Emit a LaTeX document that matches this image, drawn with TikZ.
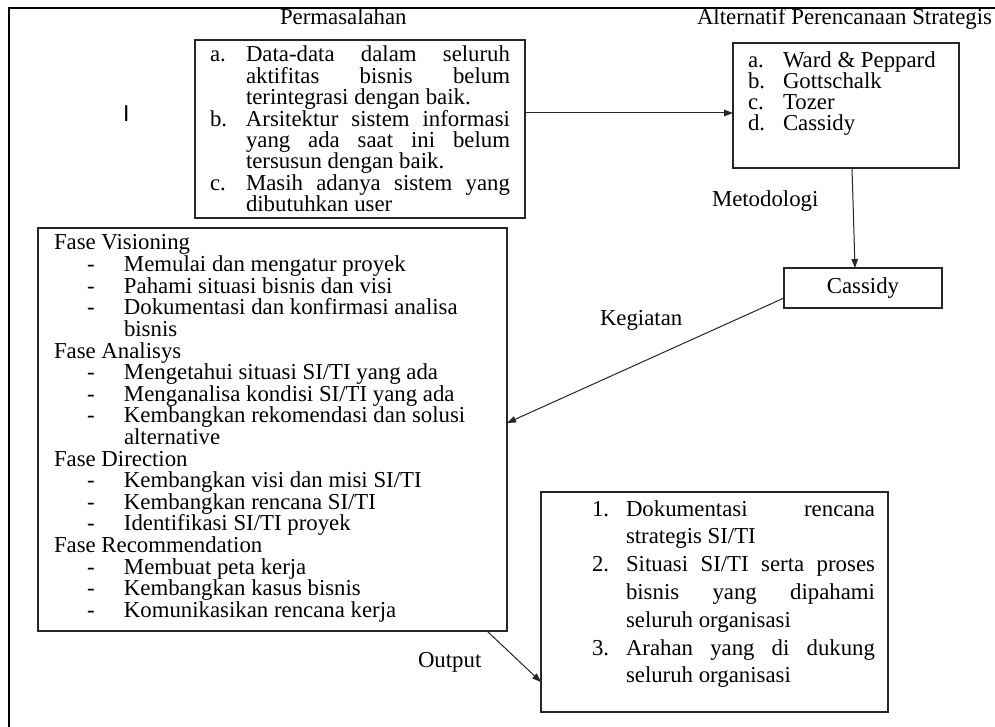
\documentclass[tikz,border=0pt]{standalone}
\usepackage{fontspec}
\setmainfont{Liberation Serif}
\newfontfamily\sansI{Liberation Sans}
\usetikzlibrary{arrows.meta,calc}
\newcommand\lineS[2]{\makebox[#1][s]{#2}}
\newcommand\dashitem[1]{\hspace*{33pt}\makebox[37pt][l]{-}#1}
\newcommand\contline[1]{\hspace*{70pt}#1}
\begin{document}
\begin{tikzpicture}[x=1pt,y=-1pt,
  every node/.style={inner sep=0pt,outer sep=0pt,font=\fontsize{22.8}{21.6}\selectfont},
  box/.style={draw=black!85,line width=1.1pt,anchor=north west},
  arr/.style={draw=black!85,line width=1pt,-{Triangle[length=9pt,width=6.5pt]}},
  txt/.style={anchor=base west}]
\useasboundingbox (0,0) rectangle (995,727);
\fill[white] (0,0) rectangle (995,727);
% outer frame (top and left only)
\draw[line width=2.5pt] (9,727) -- (9,8) -- (995,8);

% boxes
\node[box,minimum width=330,minimum height=178] (prob) at (195,40) {};
\node[box,minimum width=226,minimum height=125] (alt) at (733,43) {};
\node[box,minimum width=158,minimum height=40] (cas) at (784,268) {Cassidy};
\node[box,minimum width=469,minimum height=403] (main) at (38,228) {};
\node[box,minimum width=347,minimum height=220] (out) at (541,492) {};

% titles and labels
\node[txt] (perm) at (280,25) {Permasalahan};
\node[txt] (altt) at (697,25) {Alternatif Perencanaan Strategis};
\node[txt] (metlab) at (712,207) {Metodologi};
\node[txt] (keglab) at (600,325) {Kegiatan};
\node[txt] (outlab) at (418,667) {Output};
\node[txt,font=\sansI\fontsize{23}{23}\selectfont] (cursor) at (123,122) {I};

% problem text
\node[txt,font=\fontsize{22.8}{21.4}\selectfont] (probtxt) at (210,62) {\parbox[t]{310pt}{%
\makebox[36pt][l]{a.}\lineS{264pt}{Data-data dalam seluruh}\\
\hspace*{36pt}\lineS{264pt}{aktifitas bisnis belum}\\
\hspace*{36pt}terintegrasi dengan baik.\\
\makebox[36pt][l]{b.}\lineS{264pt}{Arsitektur sistem informasi}\\
\hspace*{36pt}\lineS{264pt}{yang ada saat ini belum}\\
\hspace*{36pt}tersusun dengan baik.\\
\makebox[36pt][l]{c.}\lineS{264pt}{Masih adanya sistem yang}\\
\hspace*{36pt}dibutuhkan user}};

% alternatives text
\node[txt,font=\fontsize{22.8}{21}\selectfont] (alttxt) at (748,68) {\parbox[t]{200pt}{%
\makebox[35pt][l]{a.}Ward \& Peppard\\
\makebox[35pt][l]{b.}Gottschalk\\
\makebox[35pt][l]{c.}Tozer\\
\makebox[35pt][l]{d.}Cassidy}};

% main text
\node[txt,font=\fontsize{22.8}{21.6}\selectfont] (maintxt) at (54,250) {\parbox[t]{440pt}{%
Fase Visioning\\
\dashitem{Memulai dan mengatur proyek}\\
\dashitem{Pahami situasi bisnis dan visi}\\
\dashitem{Dokumentasi dan konfirmasi analisa}\\
\contline{bisnis}\\
Fase Analisys\\
\dashitem{Mengetahui situasi SI/TI yang ada}\\
\dashitem{Menganalisa kondisi SI/TI yang ada}\\
\dashitem{Kembangkan rekomendasi dan solusi}\\
\contline{alternative}\\
Fase Direction\\
\dashitem{Kembangkan visi dan misi SI/TI}\\
\dashitem{Kembangkan rencana SI/TI}\\
\dashitem{Identifikasi SI/TI proyek}\\
Fase Recommendation\\
\dashitem{Membuat peta kerja}\\
\dashitem{Kembangkan kasus bisnis}\\
\dashitem{Komunikasikan rencana kerja}}};

% output text
\node[txt,font=\fontsize{22.8}{27.8}\selectfont] (outtxt) at (592,516) {\parbox[t]{300pt}{%
\makebox[34pt][l]{1.}\lineS{249pt}{Dokumentasi rencana}\\
\hspace*{34pt}strategis SI/TI\\
\makebox[34pt][l]{2.}\lineS{249pt}{Situasi SI/TI serta proses}\\
\hspace*{34pt}\lineS{249pt}{bisnis yang dipahami}\\
\hspace*{34pt}seluruh organisasi\\
\makebox[34pt][l]{3.}\lineS{249pt}{Arahan yang di dukung}\\
\hspace*{34pt}seluruh organisasi}};

% connectors
\draw[arr] ([yshift=16pt]prob.east) -- ([yshift=-7.5pt]alt.west);
\draw[arr] ([xshift=6pt]alt.south) -- ([xshift=-8pt]cas.north);
\draw[arr] ([yshift=-10pt]cas.west) -- ([yshift=6.5pt]main.east);
\draw[arr] ([xshift=214.5pt]main.south) -- ([yshift=-80pt]out.west);
\end{tikzpicture}
\end{document}
